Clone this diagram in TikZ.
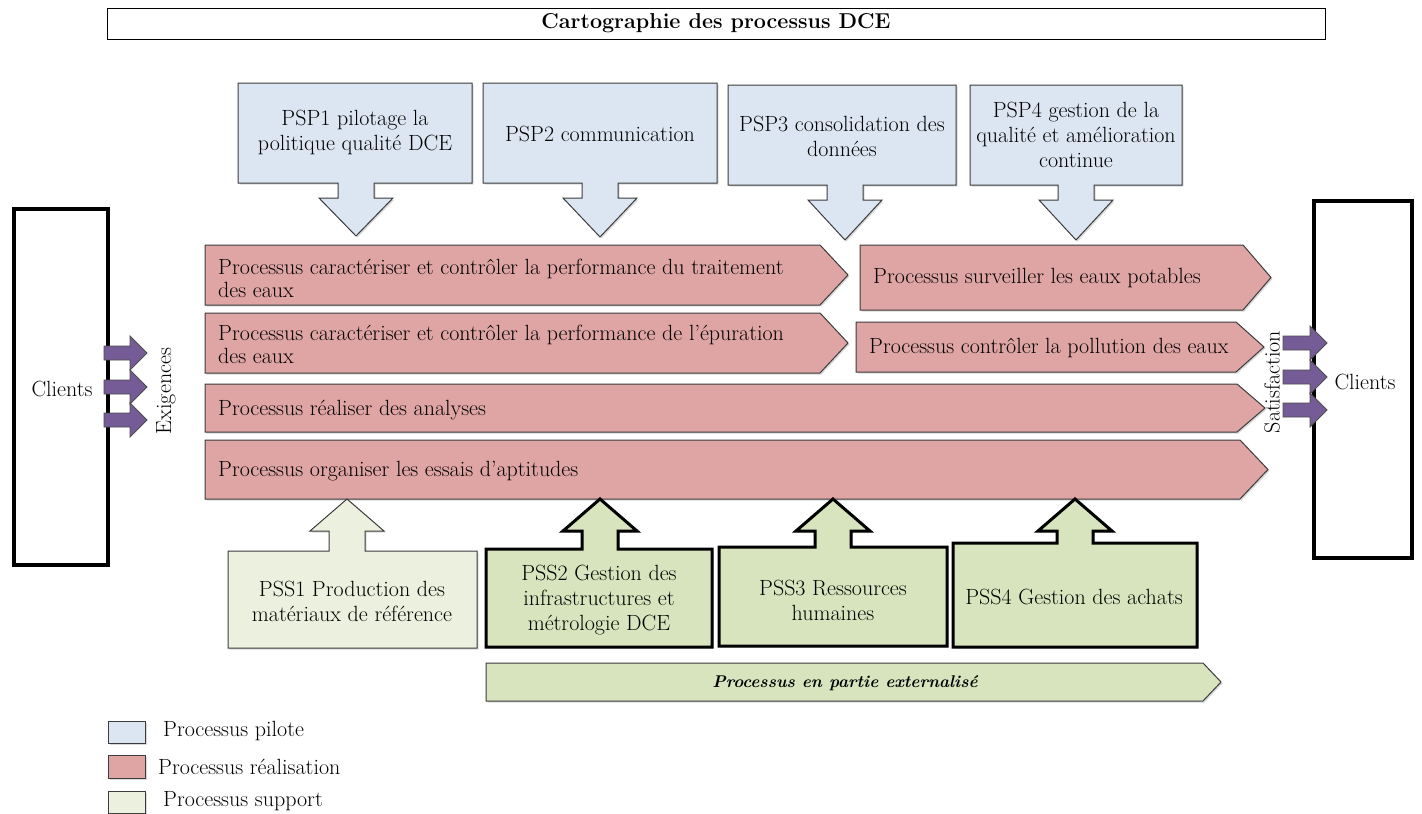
\documentclass[tikz,border=0pt]{standalone}
\usepackage{fontspec}
\usetikzlibrary{shadows}
\definecolor{pilotfill}{RGB}{220,230,242}
\definecolor{realfill}{RGB}{223,164,164}
\definecolor{suplight}{RGB}{235,241,222}
\definecolor{supfill}{RGB}{215,228,189}
\definecolor{purp}{RGB}{118,92,150}
\definecolor{edge}{RGB}{60,60,60}
% down callout: x1 y1 x2 y2 cx tip style
\newcommand{\dcallout}[7]{%
  \draw[#7] (#1,#2) -- (#3,#2) -- (#3,#4) -- ({#5+18},#4) -- ({#5+18},{#4+15}) -- ({#5+37},{#4+15}) -- (#5,#6) -- ({#5-37},{#4+15}) -- ({#5-18},{#4+15}) -- ({#5-18},#4) -- (#1,#4) -- cycle;}
% up callout: x1 y1 x2 y2 cx style
\newcommand{\ucallout}[6]{%
  \draw[#6] (#1,#4) -- (#1,#2) -- ({#5-18},#2) -- ({#5-18},531) -- ({#5-37},531) -- (#5,499) -- ({#5+37},531) -- ({#5+18},531) -- ({#5+18},#2) -- (#3,#2) -- (#3,#4) -- cycle;}
% chevron: x1 y1 xtip y2 style
\newcommand{\chev}[5]{%
  \draw[#5] (#1,#2) -- ({#3-28},#2) -- (#3,{(#2+#4)/2}) -- ({#3-28},#4) -- (#1,#4) -- cycle;}
% purple arrow: xs xh xt y
\newcommand{\parr}[4]{%
  \draw[purpstyle] (#1,{#4-7}) -- (#2,{#4-7}) -- (#2,{#4-17}) -- (#3,#4) -- (#2,{#4+17}) -- (#2,{#4+7}) -- (#1,{#4+7}) -- cycle;}
\begin{document}
\begin{tikzpicture}[x=1pt,y=-1pt,
  txt/.style={font=\fontsize{22}{25}\selectfont, inner sep=0pt, align=center},
  ltxt/.style={font=\fontsize{22}{23}\selectfont, inner sep=0pt, align=left, anchor=west},
  shad/.style={drop shadow={shadow xshift=1.5pt,shadow yshift=-1.5pt,opacity=0.3}},
  pilotstyle/.style={fill=pilotfill, draw=edge, line width=1pt, shad},
  realstyle/.style={fill=realfill, draw=edge, line width=1pt, shad},
  suplstyle/.style={fill=suplight, draw=edge, line width=1pt, shad},
  supstyle/.style={fill=supfill, draw=black, line width=3pt, line join=miter, shad},
  banstyle/.style={fill=supfill, draw=edge, line width=1pt, shad},
  purpstyle/.style={fill=purp, draw=black!70, line width=0.8pt},
  clientbox/.style={draw=black, fill=white, line width=3.5pt, inner sep=0pt, shad}]
\useasboundingbox (0,0) rectangle (1422,814);

% title
\node[draw=black, line width=1pt, minimum width=1218pt, minimum height=31pt, inner sep=0pt,
      font=\fontsize{21.5}{24}\selectfont\bfseries] (title) at (716,23.5) {Cartographie des processus DCE};

% clients boxes
\node[clientbox, minimum width=94pt, minimum height=356pt] (clL) at (61,387) {};
\node[txt] (clLt) at (62,389) {Clients};
\node[clientbox, minimum width=98pt, minimum height=357pt] (clR) at (1363,379.5) {};
\node[txt] (clRt) at (1365,382) {Clients};

% pilot processes
\dcallout{238}{83}{472}{183}{356}{236}{pilotstyle}
\dcallout{483}{83}{717}{183}{600}{237}{pilotstyle}
\dcallout{728}{85}{956}{185}{845}{240}{pilotstyle}
\dcallout{970}{85}{1182}{185}{1076}{240}{pilotstyle}
\node[txt] (psp1) at (355,132) {PSP1 pilotage la\\politique qualité DCE};
\node[txt] (psp2) at (600,134) {PSP2 communication};
\node[txt] (psp3) at (842,136) {PSP3 consolidation des\\données};
\node[txt] (psp4) at (1076,135) {PSP4 gestion de la\\qualité et amélioration\\continue};

% realisation processes
\chev{205}{245}{848}{305}{realstyle}
\chev{860}{245}{1271}{310}{realstyle}
\chev{205}{313}{848}{373}{realstyle}
\chev{856}{322}{1264}{372}{realstyle}
\chev{205}{384}{1265}{432}{realstyle}
\chev{205}{440}{1268}{499}{realstyle}
\node[ltxt] (r1) at (218,278) {Processus caractériser et contrôler la performance du traitement\\des eaux};
\node[ltxt] (r1b) at (873,278) {Processus surveiller les eaux potables};
\node[ltxt] (r2) at (218,344) {Processus caractériser et contrôler la performance de l’épuration\\des eaux};
\node[ltxt] (r2b) at (869,348) {Processus contrôler la pollution des eaux};
\node[ltxt] (r3) at (218,410) {Processus réaliser des analyses};
\node[ltxt] (r4) at (218,471) {Processus organiser les essais d’aptitudes};

% support processes
\ucallout{228}{551}{477}{648}{347}{suplstyle}
\ucallout{486}{549}{712}{647}{600}{supstyle}
\ucallout{719}{547}{947}{646}{833}{supstyle}
\ucallout{953}{543}{1197}{647}{1075}{supstyle}
\node[txt] (pss1) at (352,601) {PSS1 Production des\\matériaux de référence};
\node[txt] (pss2) at (599,600) {PSS2 Gestion des\\infrastructures et\\métrologie DCE};
\node[txt] (pss3) at (833,600) {PSS3 Ressources\\humaines};
\node[txt] (pss4) at (1074,597) {PSS4 Gestion des achats};

% banner
\draw[banstyle] (486,663) -- (1203,663) -- (1221,682) -- (1203,701) -- (486,701) -- cycle;
\node[txt, font=\fontsize{17}{20}\selectfont\bfseries\itshape] (ban) at (845,683) {Processus en partie externalisé};

% purple arrows
\parr{104}{130}{147}{353}
\parr{104}{130}{147}{387}
\parr{104}{130}{147}{420}
\parr{1283}{1310}{1327}{343}
\parr{1283}{1310}{1327}{377}
\parr{1283}{1310}{1327}{410}
\node[txt, rotate=90] (exig) at (166,391) {Exigences};
\node[txt, rotate=90] (satis) at (1272,382) {Satisfaction};

% legend
\draw[pilotstyle] (108,721) rectangle (145,743);
\draw[realstyle] (108,755) rectangle (145,778);
\draw[suplstyle] (108,791) rectangle (145,813);
\node[ltxt] (lg1) at (163,731) {Processus pilote};
\node[ltxt] (lg2) at (158,767) {Processus réalisation};
\node[ltxt] (lg3) at (163,801) {Processus support};
\end{tikzpicture}
\end{document}
